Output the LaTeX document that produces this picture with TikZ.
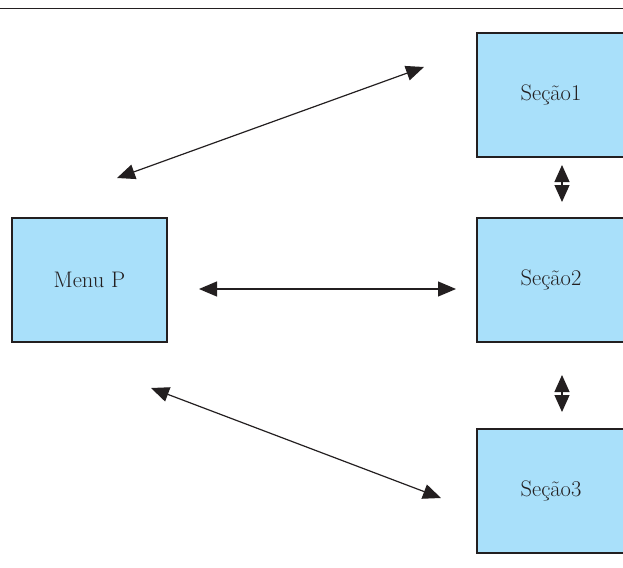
\documentclass[tikz,border=0pt]{standalone}
\usetikzlibrary{arrows.meta}
\definecolor{boxblue}{RGB}{169,224,250}
\definecolor{ink}{RGB}{35,31,32}
\tikzset{
  boxnode/.style={draw=ink, line width=1.4pt, fill=boxblue, rectangle, inner sep=0pt,
    font=\fontsize{22.5}{26}\selectfont, text=ink},
  link/.style={draw=ink, line width=1.2pt, {Triangle[length=18pt,width=15pt]}-{Triangle[length=18pt,width=15pt]}},
  vlink/.style={draw=ink, line width=1.2pt, {Triangle[length=17pt,width=15pt]}-{Triangle[length=17pt,width=15pt]}}
}
\begin{document}
\begin{tikzpicture}[x=1pt,y=-1pt]
\useasboundingbox (0,0) rectangle (623,567);
\clip (0,0) rectangle (623,567);
\draw[ink, line width=1pt] (0,9) -- (623,9);
\node[boxnode, minimum width=155, minimum height=124] (menu) at (89.5,280) {Menu P};
\node[boxnode, minimum width=148, minimum height=124] (s1) at (551,95) {Seção1};
\node[boxnode, minimum width=148, minimum height=124] (s2) at (551,280) {Seção2};
\node[boxnode, minimum width=148, minimum height=124] (s3) at (551,491) {Seção3};
\coordinate (a1) at (117,178);
\coordinate (b1) at (424,67);
\coordinate (a2) at (199,289);
\coordinate (b2) at (456,289);
\coordinate (a3) at (151,388);
\coordinate (b3) at (441,498);
\coordinate (v1a) at (562,165);
\coordinate (v1b) at (562,202);
\coordinate (v2a) at (562,375);
\coordinate (v2b) at (562,412);
\draw[link] (a1) -- (b1);
\draw[link] (a2) -- (b2);
\draw[link] (a3) -- (b3);
\draw[vlink] (v1a) -- (v1b);
\draw[vlink] (v2a) -- (v2b);
\end{tikzpicture}
\end{document}
